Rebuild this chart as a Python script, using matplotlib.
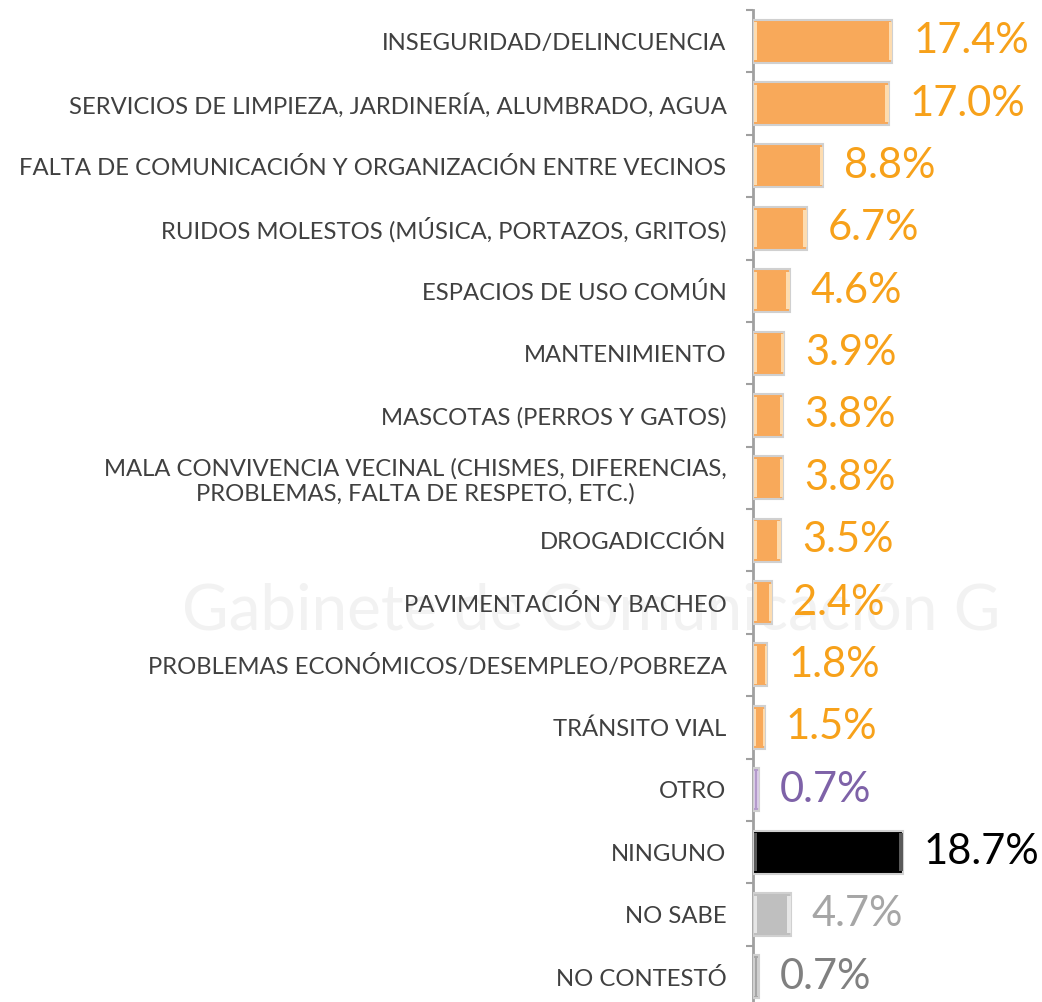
import matplotlib.pyplot as plt

# datos
categorias = [
    "INSEGURIDAD/DELINCUENCIA",
    "SERVICIOS DE LIMPIEZA, JARDINERÍA, ALUMBRADO, AGUA",
    "FALTA DE COMUNICACIÓN Y ORGANIZACIÓN ENTRE VECINOS",
    "RUIDOS MOLESTOS (MÚSICA, PORTAZOS, GRITOS)",
    "ESPACIOS DE USO COMÚN",
    "MANTENIMIENTO",
    "MASCOTAS (PERROS Y GATOS)",
    "MALA CONVIVENCIA VECINAL (CHISMES, DIFERENCIAS,\nPROBLEMAS, FALTA DE RESPETO, ETC.)",
    "DROGADICCIÓN",
    "PAVIMENTACIÓN Y BACHEO",
    "PROBLEMAS ECONÓMICOS/DESEMPLEO/POBREZA",
    "TRÁNSITO VIAL",
    "OTRO",
    "NINGUNO",
    "NO SABE",
    "NO CONTESTÓ",
]
valores = [17.4, 17.0, 8.8, 6.7, 4.6, 3.9, 3.8, 3.8, 3.5, 2.4, 1.8, 1.5, 0.7, 18.7, 4.7, 0.7]

color_barra = ["#F8A95A"] * 12 + ["#B49ACB", "#000000", "#BFBFBF", "#A6A6A6"]
color_brillo = ["#FDDCB0"] * 12 + ["#D9CBE6", "#5A5A5A", "#E6E6E6", "#CFCFCF"]
color_texto = ["#F7A11A"] * 12 + ["#7E62A8", "#000000", "#A6A6A6", "#808080"]

fig = plt.figure(figsize=(10.42, 10.02), dpi=100)
fig.patch.set_facecolor("white")

# marca de agua (fondo)
fondo = fig.add_axes([0, 0, 1, 1], zorder=-5)
fondo.axis("off")
fondo.text(0.175, 0.39, "Gabinete de Comunicación G", fontsize=46, family="Lato",
           color="#F2F2F2", va="center", ha="left")

ax = fig.add_axes([753 / 1042, -6 / 1002, (1042 - 753) / 1042, 998 / 1002])
ax.patch.set_alpha(0)

pos = list(range(len(valores)))
ax.barh(pos, valores, height=0.69, color=color_barra, edgecolor="#D0D0D0",
        linewidth=1.5, zorder=3)

# efecto de bisel en los extremos
for p, v, cb in zip(pos, valores, color_brillo):
    w = min(0.45, v / 5)
    ax.barh(p, w, left=0.1, height=0.6, color=cb, zorder=4)
    ax.barh(p, w, left=v - w, height=0.6, color=cb, zorder=4)

for p, v, c in zip(pos, valores, color_texto):
    ax.annotate(f"{v:.1f}%", xy=(v, p), xytext=(15, 0), textcoords="offset points",
                ha="left", va="center", fontsize=30, family="Lato", color=c,
                bbox=dict(facecolor="white", edgecolor="none", pad=1) if p == 7 else None)

ax.set_xlim(0, 36.1)
ax.set_ylim(15.5, -0.5)

ax.set_yticks(pos)
ax.set_yticklabels(categorias, fontsize=17.2, family="Lato", color="#404040",
                   multialignment="center", linespacing=1.2)
ax.tick_params(axis="y", length=0, pad=19)
ax.set_yticks([k + 0.5 for k in range(-1, 16)], minor=True)
ax.tick_params(axis="y", which="minor", length=5, width=1.5, color="#A0A0A0")
ax.set_xticks([])

for s in ["top", "right", "bottom"]:
    ax.spines[s].set_visible(False)
ax.spines["left"].set_color("#A0A0A0")
ax.spines["left"].set_linewidth(2)

plt.savefig("out.png", dpi=100)
